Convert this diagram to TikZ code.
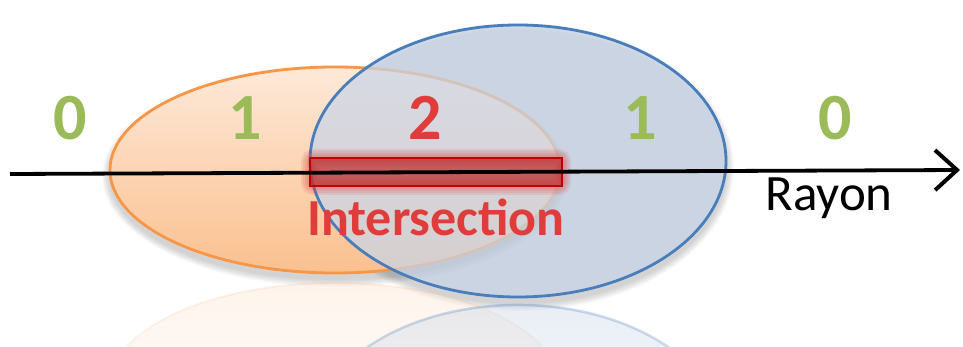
\documentclass[tikz,border=0pt]{standalone}
\usepackage{fontspec}
\setmainfont{Carlito}
\usetikzlibrary{arrows.meta,fadings,shapes.geometric}

\definecolor{orangeline}{HTML}{F79646}
\definecolor{orangetop}{HTML}{FDE9D9}
\definecolor{orangebot}{HTML}{FAC08F}
\definecolor{blueline}{HTML}{4A7EBB}
\definecolor{bluefill}{HTML}{C9D5E8}
\definecolor{countgreen}{HTML}{9BBB59}
\definecolor{hitred}{HTML}{E03C3C}
\definecolor{hitdark}{HTML}{C00000}

\begin{document}
\begin{tikzpicture}[x=1pt, y=-1pt,
  blob/.style={ellipse, inner sep=0pt, line width=2.8pt},
  count/.style={font=\bfseries\fontsize{66}{66}\selectfont, text=countgreen, inner sep=0pt},
  ray/.style={line width=3.8pt, -{Straight Barb[length=22pt, width=40pt, line width=4pt]}}]
\useasboundingbox (0,0) rectangle (963,347);
% soft shadows under the two ellipses
\foreach \s in {1,...,8}{
  \fill[black, opacity=0.025] (335,176) ellipse [x radius=225+\s, y radius=103+\s];
  \fill[black, opacity=0.025] (518,167) ellipse [x radius=208+\s, y radius=136+\s];
}
% reflections
\begin{scope}
\clip (0,279) rectangle (963,347);
\fill[orangetop, path fading=south, opacity=0.5] (335,386) ellipse [x radius=225, y radius=103];
\draw[orangeline, path fading=south, opacity=0.12, line width=2pt] (335,386) ellipse [x radius=225, y radius=103];
\fill[bluefill, path fading=south, opacity=0.4] (518,441) ellipse [x radius=208, y radius=136];
\draw[blueline, path fading=south, opacity=0.3, line width=2.5pt] (518,441) ellipse [x radius=208, y radius=136];
\end{scope}
% the two volumes
\node[blob, draw=orangeline, top color=orangetop, bottom color=orangebot,
  minimum width=450, minimum height=206] (cone) at (335,170) {};
\node[blob, draw=blueline, fill=bluefill, fill opacity=0.72,
  minimum width=416, minimum height=272] (sphere) at (518,161) {};
% glowing segment
\foreach \g in {18,14,10,6}{
  \draw[hitred, opacity=0.12, line width=\g pt, rounded corners=4pt] (310,158) rectangle (562,186);
}
\draw[hitdark, fill=hitred!85!black, fill opacity=0.75, line width=2pt] (310,158) rectangle (562,186);
% ray
\coordinate (start) at (10,174);
\coordinate (tip) at (960,170);
\draw[ray] (start) -- (tip);
% counts
\node[count] (outL) at (70,118) {0};
\node[count] (inL) at (245,118) {1};
\node[count, text=hitred] (both) at (425,118) {2};
\node[count] (inR) at (640,118) {1};
\node[count] (outR) at (835,118) {0};
% labels
\node[font=\bfseries\fontsize{52}{52}\selectfont, text=hitred, inner sep=0pt] (hit) at (436,217) {Intersection};
\node[font=\fontsize{51}{51}\selectfont, inner sep=0pt] (rayname) at (829,198) {Rayon};
\end{tikzpicture}
\end{document}
